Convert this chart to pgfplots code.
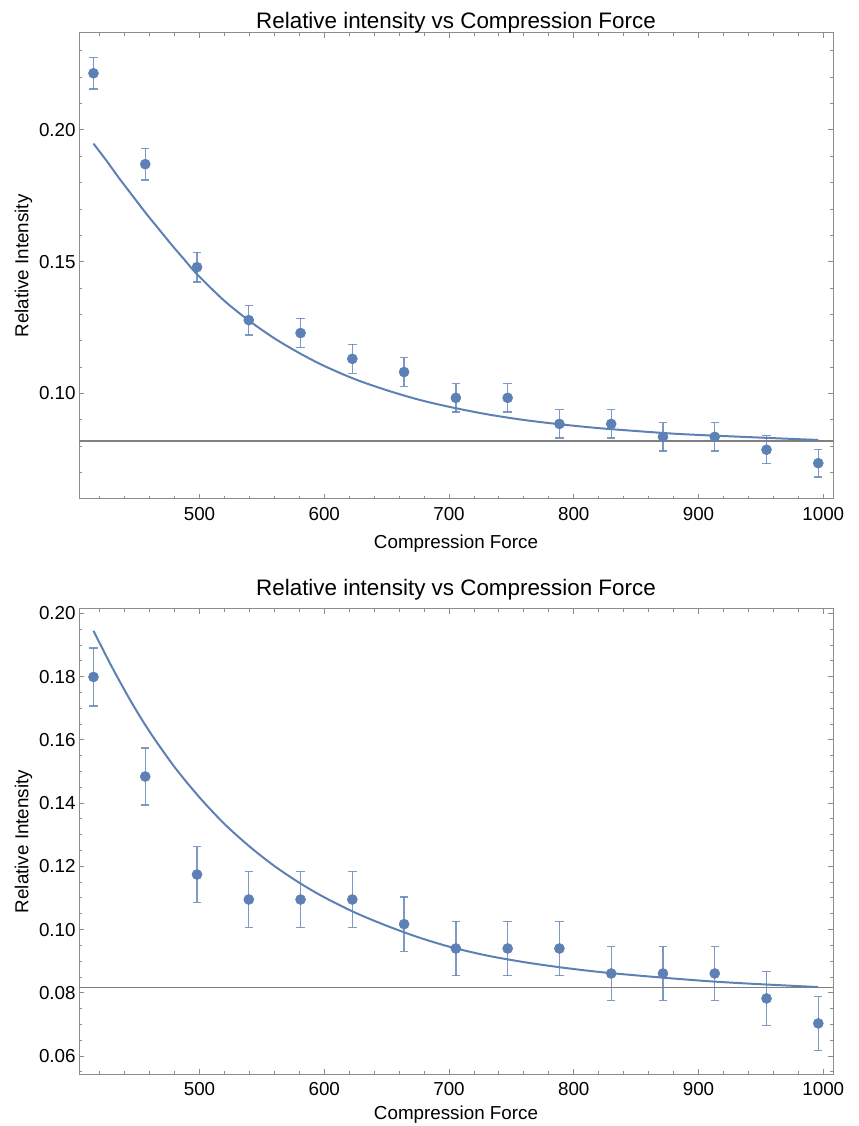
\documentclass[border=0pt]{standalone}
\usepackage{pgfplots}
\pgfplotsset{compat=1.18}
\usepackage{fontspec}
\setmainfont{Liberation Sans}
\definecolor{mblue}{RGB}{94,129,181}
\pgfplotsset{
  every axis title shift=0pt,
  mystyle/.style={
    scale only axis, width=377bp,
    xmin=403.4, xmax=1007.8,
    axis line style={black!45, line width=0.5bp},
    tick align=inside,
    major tick length=2.6bp, minor tick length=1.6bp,
    every tick/.style={black!45, line width=0.45bp},
    xtick={500,600,700,800,900,1000},
    minor xtick={420,440,460,480,520,540,560,580,620,640,660,680,720,740,760,780,820,840,860,880,920,940,960,980},
    xticklabel style={/pgf/number format/1000 sep={}, anchor=north, inner sep=0pt, yshift=-3.8bp},
    yticklabel style={/pgf/number format/fixed, /pgf/number format/fixed zerofill, /pgf/number format/precision=2, anchor=east, inner sep=0pt, xshift=-1.5bp},
    /pgf/number format/assume math mode=true,
    tick label style={font=\fontsize{9.4bp}{11bp}\selectfont, black},
    label style={font=\fontsize{9.4bp}{11bp}\selectfont, black},
    title style={font=\fontsize{11.2bp}{13bp}\selectfont, anchor=base, inner sep=0pt},
    xlabel={Compression Force}, ylabel={Relative Intensity},
    ylabel style={at={(axis description cs:-0.0672,0.5)}, anchor=base, rotate=0, inner sep=0pt},
    title={Relative intensity vs Compression Force},
  },
  pts/.style={only marks, mark=*, mark size=2.5bp, mblue,
    mark options={fill=mblue, draw=mblue, line width=0.3bp},
    error bars/.cd, y dir=both, y explicit,
    error bar style={mblue, opacity=0.8, line width=0.65bp},
    error mark options={rotate=90, mark size=2.1bp, line width=0.65bp, mblue, opacity=0.8}},
}
\pgfplotstableread{
x y e
415 0.2215 0.0060
456.5 0.1870 0.0060
498 0.1479 0.0056
539.5 0.1278 0.0056
581 0.1229 0.0056
622.5 0.1131 0.0055
664 0.1081 0.0054
705.5 0.0983 0.0054
747 0.0983 0.0054
788.5 0.0884 0.0054
830 0.0884 0.0054
871.5 0.0835 0.0054
913 0.0835 0.0054
954.5 0.0786 0.0053
996 0.0735 0.0052
}\topdata
\pgfplotstableread{
x y e
415 0.1799 0.0092
456.5 0.1484 0.0090
498 0.1174 0.0088
539.5 0.1095 0.0088
581 0.1095 0.0088
622.5 0.1095 0.0088
664 0.1017 0.0086
705.5 0.0940 0.0086
747 0.0940 0.0086
788.5 0.0940 0.0086
830 0.0861 0.0085
871.5 0.0861 0.0085
913 0.0861 0.0085
954.5 0.0782 0.0085
996 0.0703 0.0085
}\botdata
\begin{document}
\begin{tikzpicture}
\useasboundingbox (0,0) rectangle (429.5bp,563bp);
\begin{axis}[mystyle, at={(39.5bp,313.5bp)}, anchor=south west, height=233bp,
  ymin=0.0599, ymax=0.2368,
  ytick={0.10,0.15,0.20},
  minor ytick={0.07,0.08,0.09,0.11,0.12,0.13,0.14,0.16,0.17,0.18,0.19,0.21,0.22,0.23},
  title style={at={(axis description cs:0.5,1.0101)}},
  xlabel style={at={(axis description cs:0.5,-0.1058)}, anchor=base, inner sep=0pt},
]
\addplot[black!50, line width=0.6bp] coordinates {(403.4,0.0819) (1007.8,0.0819)};
\addplot[mblue, line width=1bp, smooth] coordinates {
(415,0.1948)(425,0.1886)(436,0.1814)(447,0.1746)(457,0.1684)(468,0.1620)(478,0.1562)(488,0.1507)(498,0.1452)(520,0.1351)(540,0.1275)(560,0.1209)(580,0.1153)(600,0.1104)(625,0.1053)(650,0.1012)(675,0.0977)(700,0.0949)(730,0.0921)(760,0.0899)(790,0.0882)(820,0.0868)(850,0.0857)(880,0.0847)(910,0.0840)(940,0.0834)(970,0.0828)(996,0.0823)};
\addplot[pts] table[x=x, y=y, y error=e] {\topdata};
\end{axis}
\begin{axis}[mystyle, at={(39.5bp,26bp)}, anchor=south west, height=232.5bp,
  ymin=0.0543, ymax=0.2014,
  ytick={0.06,0.08,0.10,0.12,0.14,0.16,0.18,0.20},
  minor ytick={0.055,0.065,0.07,0.075,0.085,0.09,0.095,0.105,0.11,0.115,0.125,0.13,0.135,0.145,0.15,0.155,0.165,0.17,0.175,0.185,0.19,0.195},
  title style={at={(axis description cs:0.5,1.028)}},
  xlabel style={at={(axis description cs:0.5,-0.0989)}, anchor=base, inner sep=0pt},
]
\addplot[black!50, line width=0.6bp] coordinates {(403.4,0.0817) (1007.8,0.0817)};
\addplot[mblue, line width=1bp, smooth] coordinates {
(415,0.1945)(430,0.1829)(445,0.1722)(460,0.1626)(480,0.1514)(500,0.1418)(520,0.1334)(540,0.1263)(560,0.1201)(580,0.1148)(600,0.1102)(625,0.1053)(650,0.1012)(675,0.0976)(700,0.0946)(730,0.0918)(760,0.0897)(790,0.0880)(820,0.0866)(850,0.0855)(880,0.0845)(910,0.0836)(940,0.0829)(970,0.0823)(996,0.0818)};
\addplot[pts] table[x=x, y=y, y error=e] {\botdata};
\end{axis}
\end{tikzpicture}
\end{document}
